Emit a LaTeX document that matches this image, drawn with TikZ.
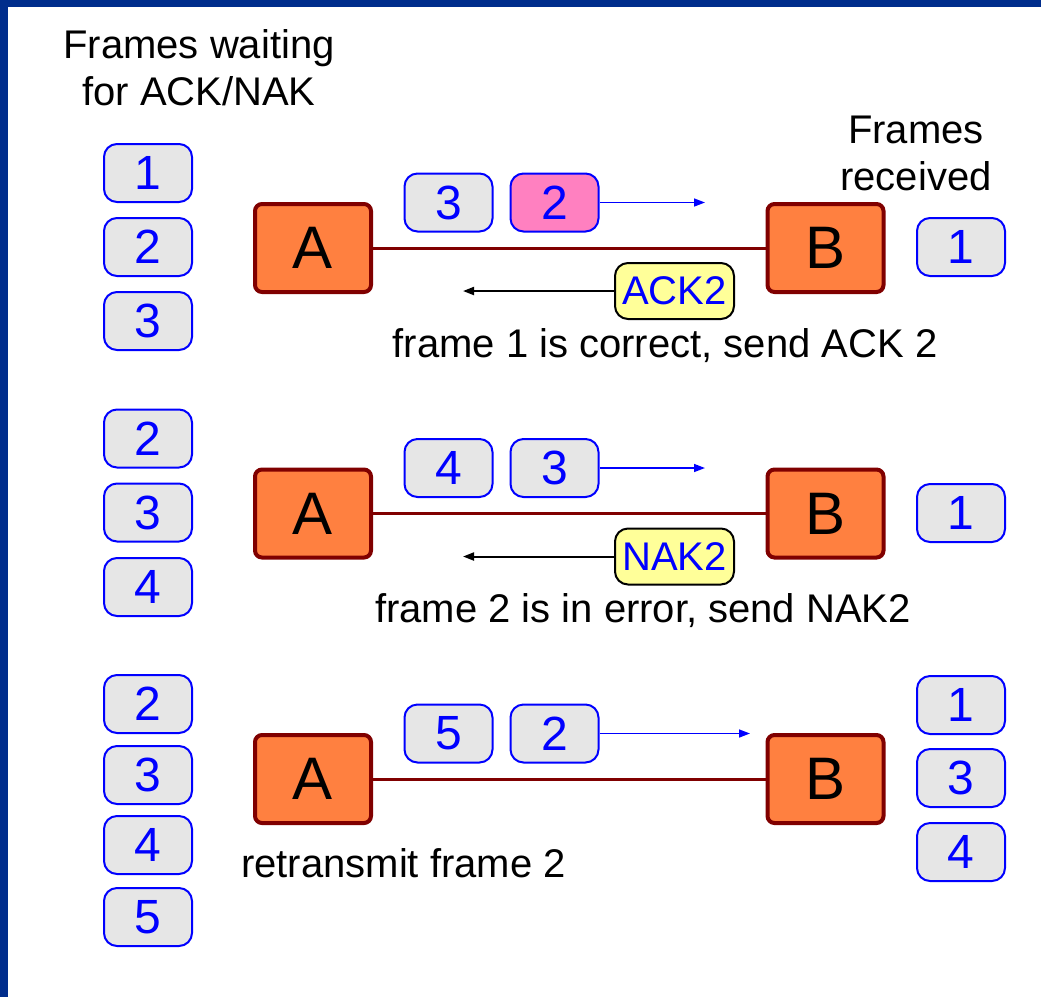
\documentclass[tikz,border=0pt]{standalone}
\usepackage{fontspec}
\setmainfont{Liberation Sans}
\usetikzlibrary{arrows.meta}
\definecolor{linkred}{RGB}{128,0,0}
\definecolor{stationorange}{RGB}{255,128,64}
\definecolor{pktgray}{RGB}{230,230,230}
\definecolor{pktpink}{RGB}{255,128,192}
\definecolor{ctlyellow}{RGB}{255,255,153}
\definecolor{edgeblue}{RGB}{0,45,140}
\tikzset{
	>={Triangle[length=11pt,width=8pt]},
	station/.style={
		draw=linkred, line width=4pt, fill=stationorange,
		rounded corners=7pt, minimum width=116pt, minimum height=88pt,
		inner sep=0pt, font=\fontsize{60}{60}\selectfont
	},
	pkt/.style={
		draw=blue, line width=2pt, fill=pktgray,
		rounded corners=13pt, minimum width=88pt, minimum height=58pt,
		inner sep=0pt, text=blue, font=\fontsize{48}{48}\selectfont
	},
	ctl/.style={
		pkt, draw=black, fill=ctlyellow,
		minimum width=119pt, minimum height=56pt,
		font=\fontsize{40}{40}\selectfont
	},
	link/.style={draw=linkred, line width=3pt},
	send/.style={->, draw=blue, line width=1.5pt},
	reply/.style={->, draw=black, line width=2pt},
	note/.style={font=\fontsize{40}{47}\selectfont, inner sep=0pt, align=center}
}

\begin{document}
\begin{tikzpicture}[x=1pt,y=-1pt]
  \useasboundingbox (0,0) rectangle (1041,997);
  \fill[edgeblue] (0,0) rectangle (1041,997);
  \fill[white] (8,7) rectangle (1041,997);

  \node [note, anchor=north] (waiting) at (199,29) {Frames waiting\\for ACK/NAK};
  \node [note, anchor=north] (received) at (916,116) {Frames\\received};

  % first round: 1 arrives, ACK2 goes back
  \foreach \n/\y in {1/173,2/247,3/321}
    \node [pkt] (wa\n) at (148,\y) {\n};
  \node [station] (a1) at (313,248) {A};
  \node [station] (b1) at (825.5,248) {B};
  \draw [link] (a1) -- (b1);
  \node [pkt] (f13) at (448.5,202.5) {3};
  \node [pkt, fill=pktpink] (f12) at (554.5,202.5) {2};
  \coordinate (s1) at (705,202.5);
  \draw [send] (f12) -- (s1);
  \node [ctl] (ack) at (674.5,291) {ACK2};
  \coordinate (r1) at (463,291);
  \draw [reply] (ack) -- (r1);
  \node [note, anchor=base] (t1) at (665,357) {frame 1 is correct, send ACK 2};
  \node [pkt] (ra1) at (961,247) {1};

  % second round: 2 is damaged, NAK2 goes back
  \foreach \n/\y in {2/438.5,3/512.5,4/587}
    \node [pkt] (wb\n) at (148,\y) {\n};
  \node [station] (a2) at (313,513.5) {A};
  \node [station] (b2) at (825.5,513.5) {B};
  \draw [link] (a2) -- (b2);
  \node [pkt] (f24) at (448.5,468) {4};
  \node [pkt] (f23) at (554.5,468) {3};
  \coordinate (s2) at (705,468);
  \draw [send] (f23) -- (s2);
  \node [ctl] (nak) at (674.5,556.5) {NAK2};
  \coordinate (r2) at (463,556.5);
  \draw [reply] (nak) -- (r2);
  \node [note, anchor=base] (t2) at (643,622.5) {frame 2 is in error, send NAK2};
  \node [pkt] (rb1) at (961,513) {1};

  % third round: 2 is sent again
  \foreach \n/\y in {2/704,3/775,4/845,5/917}
    \node [pkt] (wc\n) at (148,\y) {\n};
  \node [station] (a3) at (313,779) {A};
  \node [station] (b3) at (825.5,779) {B};
  \draw [link] (a3) -- (b3);
  \node [pkt] (f35) at (448.5,733.5) {5};
  \node [pkt] (f32) at (554.5,733.5) {2};
  \coordinate (s3) at (750,733.5);
  \draw [send] (f32) -- (s3);
  \node [note, anchor=base west] (t3) at (241,877) {retransmit frame 2};
  \foreach \n/\y in {1/705,3/778,4/852}
    \node [pkt] (rc\n) at (961,\y) {\n};
\end{tikzpicture}
\end{document}
